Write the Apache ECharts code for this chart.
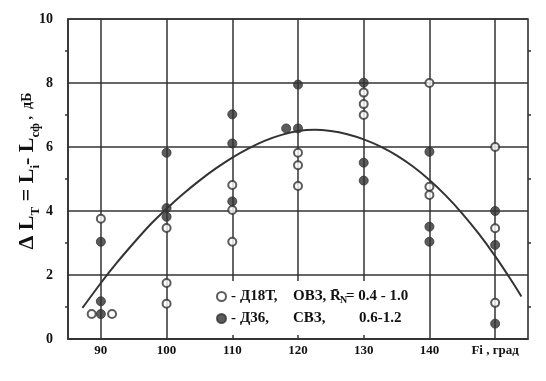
<!DOCTYPE html>
<html>
<head>
<meta charset="utf-8">
<script src="https://cdn.jsdelivr.net/npm/echarts@6/dist/echarts.min.js"></script>
<style>html,body{margin:0;padding:0;background:#fff}#c{width:546px;height:381px}</style>
</head>
<body>
<div id="c"></div>
<script>
// Data
var xTicks = [90, 100, 110, 120, 130, 140, 150];
var yTicks = [0, 2, 4, 6, 8, 10];
var openPts = [ // Д18Т, ОВЗ
  [90, 3.76], [88.6, 0.78], [91.7, 0.78],
  [100, 3.47], [100, 1.75], [100, 1.1],
  [110, 4.81], [110, 4.03], [110, 3.04],
  [120, 5.82], [120, 5.43], [120, 4.78],
  [130, 7.70], [130, 7.34], [130, 7.0],
  [140, 8.0], [140, 4.76], [140, 4.5],
  [150, 6.0], [150, 3.46], [150, 1.13]
];
var filledPts = [ // Д36, СВЗ
  [90, 3.04], [90, 1.18], [90, 0.78],
  [100, 5.82], [100, 4.09], [100, 3.82],
  [110, 7.02], [110, 6.11], [110, 4.3],
  [120, 7.95], [118.2, 6.58], [120, 6.58],
  [130, 8.01], [130, 5.51], [130, 4.95],
  [140, 5.85], [140, 3.51], [140, 3.04],
  [150, 4.0], [150, 2.94], [150, 0.48]
];
// fitted curve as traced on the reference
var curveX = [87.2, 90, 92.5, 95, 97.5, 100, 102.5, 105, 107.5, 110, 112.5, 115, 117.5, 120, 122.5,
              125, 127.5, 130, 132.5, 135, 137.5, 140, 142.5, 145, 147.5, 150, 152.5, 154];
var curveY = [0.97, 1.75, 2.4, 3.0, 3.57, 4.07, 4.53, 4.95, 5.33, 5.67, 5.96, 6.2, 6.38, 6.5, 6.54,
              6.5, 6.4, 6.24, 6.02, 5.74, 5.39, 4.97, 4.48, 3.92, 3.29, 2.59, 1.82, 1.33];
var lastXLabel = 'Fi , град';
var legendNames = ['Д18Т', 'Д36'];

var curvePts = curveX.map(function (x, i) { return [x, curveY[i]]; });
var ink = '#333';
var serif = '"Liberation Serif", "DejaVu Serif", serif';
var chart = echarts.init(document.getElementById('c'));
function t(o) { return Object.assign({ fontFamily: serif, fontWeight: 'bold', color: '#111' }, o); }
chart.setOption({
  backgroundColor: '#fff',
  animation: false,
  grid: { left: 68, right: 18, top: 19, bottom: 42, show: true, borderColor: ink, borderWidth: 1.6,
          backgroundColor: 'transparent', outerBoundsMode: 'none', containLabel: false },
  xAxis: {
    type: 'value', min: 85, max: 155,
    axisLine: { show: true, onZero: false, lineStyle: { color: ink, width: 1.6 } },
    axisTick: { show: false, customValues: xTicks },
    axisLabel: {
      customValues: xTicks, margin: 5,
      fontFamily: serif, fontWeight: 'bold', fontSize: 13, color: '#111',
      formatter: function (v) { return v === 150 ? lastXLabel : String(v); }
    },
    splitLine: { show: true, lineStyle: { color: ink, width: 1.5 } }
  },
  yAxis: [{
    type: 'value', min: 0, max: 10, interval: 2,
    name: '{a|Δ L}{s|T}{a| = L}{s|i}{a|- L}{s|сф}{d| ,  дБ}',
    nameLocation: 'middle', nameGap: 26, nameRotate: 90, nameMoveOverlap: false,
    nameTextStyle: {
      color: '#111', fontFamily: serif, fontWeight: 'bold', padding: [0, 0, 0, 16],
      rich: {
        a: t({ fontSize: 22, lineHeight: 30, verticalAlign: 'middle' }),
        s: t({ fontSize: 13, lineHeight: 30, verticalAlign: 'bottom' }),
        d: t({ fontSize: 14, lineHeight: 30, verticalAlign: 'middle' })
      }
    },
    axisLine: { show: true, lineStyle: { color: ink, width: 1.6 } },
    axisTick: { show: false },
    minorTick: { show: true, splitNumber: 2, length: 3, lineStyle: { color: ink, width: 1.5 } },
    axisLabel: { margin: 15, fontFamily: serif, fontWeight: 'bold', fontSize: 14, color: '#111' },
    splitLine: { show: true, lineStyle: { color: ink, width: 1.5 } }
  }, {
    type: 'value', min: 0, max: 10, interval: 2, position: 'right',
    axisLine: { show: false }, axisTick: { show: false }, axisLabel: { show: false },
    minorTick: { show: true, splitNumber: 2, length: 3, lineStyle: { color: ink, width: 1.5 } },
    splitLine: { show: false }
  }],
  legend: {
    orient: 'vertical', left: 210, top: 281,
    padding: [8, 20, 8, 6], itemGap: 6,
    backgroundColor: '#fff',
    itemWidth: 9, itemHeight: 9, icon: 'circle',
    data: legendNames,
    textStyle: {
      fontFamily: serif, fontWeight: 'bold', fontSize: 15, color: '#111',
      rich: {
        p: t({ fontSize: 15, width: 9 }),
        a: t({ fontSize: 15, width: 53 }),
        b: t({ fontSize: 15, width: 37 }),
        r: t({ fontSize: 15, width: 10, lineHeight: 17, verticalAlign: 'middle' }),
        n: t({ fontSize: 10, width: 6, lineHeight: 17, verticalAlign: 'bottom' }),
        c: t({ fontSize: 15 }),
        c2: t({ fontSize: 15, padding: [0, 0, 0, 13] })
      }
    },
    formatter: function (name) {
      if (name === legendNames[0]) return '{p|- }{a|Д18Т,}{b|ОВЗ,}{r|R\u0304}{n|N}{c|= 0.4 - 1.0}';
      return '{p|- }{a|Д36,}{b|СВЗ,}{r| }{n| }{c2|0.6-1.2}';
    }
  },
  series: [{
    name: 'curve', type: 'line', data: curvePts, smooth: 0.2, showSymbol: false, symbol: 'none',
    lineStyle: { color: ink, width: 2 }, z: 2, silent: true
  }, {
    name: legendNames[0], type: 'scatter', data: openPts, symbol: 'circle', symbolSize: 8,
    itemStyle: { color: '#fff', borderColor: ink, borderWidth: 2 }, z: 3
  }, {
    name: legendNames[1], type: 'scatter', data: filledPts, symbol: 'circle', symbolSize: 9,
    itemStyle: { color: ink, borderColor: ink, borderWidth: 1 }, z: 3
  }]
});
</script>
</body>
</html>
